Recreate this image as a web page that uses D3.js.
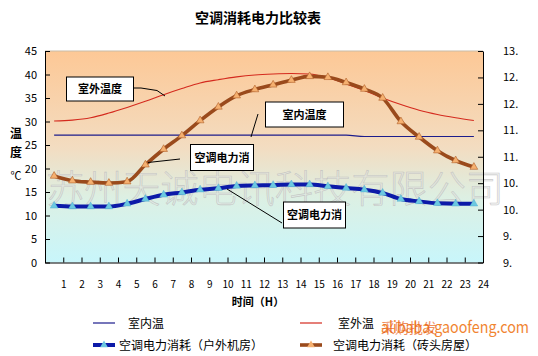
<!DOCTYPE html>
<html><head><meta charset="utf-8">
<script src="https://cdn.jsdelivr.net/npm/d3@7/dist/d3.min.js"></script>
<style>
html,body{margin:0;padding:0;background:#fff;}
svg{display:block;}
text{font-family:"Noto Sans CJK SC","Liberation Sans",sans-serif;}
</style></head>
<body>
<script>
const hours = d3.range(1,25);
const indoorTemp  = [27.1,27.1,27.1,27.1,27.1,27.1,27.1,27.1,27.1,27.1,27.1,27.1,27.1,27.1,27.1,27.1,27.1,26.8,26.8,26.8,26.8,26.8,26.8,26.8];
const outdoorTemp = [30.1,30.3,30.8,31.8,33.0,34.3,35.7,37.0,38.2,38.9,39.5,39.9,40.1,40.2,40.1,39.3,38.0,36.6,35.0,33.6,32.4,31.5,30.8,30.2];
const powerOutdoorRoom = [12.05,11.9,11.9,11.9,12.5,13.5,14.4,14.9,15.5,15.8,16.3,16.4,16.45,16.6,16.6,16.2,15.85,15.5,14.8,13.5,13.0,12.6,12.5,12.5];
const powerBrickHouse  = [18.4,17.4,17.1,16.9,17.2,20.8,24.1,27.0,30.2,33.1,35.5,36.8,37.8,38.8,39.6,39.4,38.3,36.9,35.0,30.0,26.7,23.8,21.7,20.3];
const leftTicks = d3.range(0,46,5);
const rightTicks = [9,9.5,10,10.5,11,11.5,12,12.5,13];
const seriesNames = ["室内温","室外温","空调电力消耗（户外机房）","空调电力消耗（砖头房屋）"];

const W=538,H=356;
const L=45,R=483,T=51,B=262.5;
const svg=d3.select("body").append("svg").attr("width",W).attr("height",H);
const defs=svg.append("defs");
const g=defs.append("linearGradient").attr("id","bg").attr("x1",0).attr("y1",0).attr("x2",0).attr("y2",1);
g.append("stop").attr("offset","0%").attr("stop-color","#fdc896");
g.append("stop").attr("offset","45%").attr("stop-color","#f3dcc0");
g.append("stop").attr("offset","70%").attr("stop-color","#dcf0e4");
g.append("stop").attr("offset","100%").attr("stop-color","#c8f6fb");

const x=d3.scaleLinear().domain([0,24]).range([L,R]);
const yL=d3.scaleLinear().domain([0,45]).range([B,T]);
const yR=d3.scaleLinear().domain([9,13]).range([B,T]);

svg.append("rect").attr("x",L).attr("y",T).attr("width",R-L).attr("height",B-T).attr("fill","url(#bg)");
svg.append("line").attr("x1",L).attr("x2",R).attr("y1",T).attr("y2",T).attr("stroke","#c9bba6");

// watermark
svg.append("text").attr("x",46).attr("y",202).attr("textLength",458).attr("lengthAdjust","spacingAndGlyphs")
  .attr("font-size",38).attr("font-weight",300).attr("fill","#e2e2e2").attr("fill-opacity",0.45).attr("stroke","#bdbdbd").attr("stroke-width",0.6).attr("stroke-opacity",0.8)
  .text("苏州天诚电讯科技有限公司");

// axes
const ax=svg.append("g").attr("transform",`translate(0,${B})`)
  .call(d3.axisBottom(x).tickValues(d3.range(0,25)).tickSizeInner(-5).tickSizeOuter(0).tickPadding(18).tickFormat(d=>d===0?"":d));
const ayl=svg.append("g").attr("transform",`translate(${L},0)`)
  .call(d3.axisLeft(yL).tickValues(leftTicks).tickSizeInner(-5).tickSizeOuter(0).tickPadding(8));
const ayr=svg.append("g").attr("transform",`translate(${R},0)`)
  .call(d3.axisRight(yR).tickValues(rightTicks).tickSizeInner(-5).tickSizeOuter(0).tickPadding(20).tickFormat(d=>Math.floor(d)+"."));
[ax,ayl,ayr].forEach(a=>{a.selectAll("path,line").attr("stroke","#000");a.selectAll("text").attr("font-family","Liberation Sans, Arial, sans-serif").attr("font-size",10).attr("fill","#000");});
ayl.selectAll("text").attr("font-size",11);
ayr.selectAll("text").attr("font-size",11);

const px=i=>x(hours[i]-0.5);
const lineGen=d3.line().x((d,i)=>px(i)).y(d=>yL(d)).curve(d3.curveMonotoneX);

svg.append("path").attr("d",lineGen(indoorTemp)).attr("fill","none").attr("stroke","#1c1c8c").attr("stroke-width",1.1);
svg.append("path").attr("d",lineGen(outdoorTemp)).attr("fill","none").attr("stroke","#d42a1e").attr("stroke-width",1.1);
svg.append("path").attr("d",lineGen(powerBrickHouse)).attr("fill","none").attr("stroke","#9a4a1c").attr("stroke-width",3.6);
svg.append("path").attr("d",lineGen(powerOutdoorRoom)).attr("fill","none").attr("stroke","#0c1aa8").attr("stroke-width",4);

const tri=d3.symbol().type(d3.symbolTriangle).size(26);
svg.append("g").selectAll("path").data(powerBrickHouse).join("path")
  .attr("d",tri).attr("transform",(d,i)=>`translate(${px(i)},${yL(d)})`).attr("fill","#f5b070").attr("stroke","#b0602a").attr("stroke-width",0.6);
svg.append("g").selectAll("path").data(powerOutdoorRoom).join("path")
  .attr("d",tri).attr("transform",(d,i)=>`translate(${px(i)},${yL(d)})`).attr("fill","#6cc8e0").attr("stroke","#4aa8d0").attr("stroke-width",0.4);

// callouts
function callout(bx,by,bw,bh,label,pts){
  svg.append("path").attr("d",d3.line()(pts)).attr("fill","none").attr("stroke","#000").attr("stroke-width",1);
  svg.append("rect").attr("x",bx).attr("y",by).attr("width",bw).attr("height",bh).attr("fill","#fff").attr("stroke","#000").attr("stroke-width",1);
  svg.append("text").attr("x",bx+bw/2).attr("y",by+bh/2+4).attr("text-anchor","middle").attr("font-size",11).attr("font-weight","bold").text(label);
}
callout(66.5,77,67,24,"室外温度",[[134,88],[141,88],[157,90.5],[165,96]]);
callout(265.5,102,78,25,"室内温度",[[258,114],[251,137]]);
callout(190.5,144.5,63,26,"空调电力消",[[180,159],[148,162.5]]);
callout(283.5,202,62,26,"空调电力消",[[227,189],[282,223]]);

// titles
svg.append("text").attr("x",258).attr("y",23).attr("text-anchor","middle").attr("font-size",14).attr("font-weight","bold").text("空调消耗电力比较表");
svg.append("text").attr("x",258).attr("y",306).attr("text-anchor","middle").attr("font-size",11).attr("font-weight","bold").text("时间（H）");
svg.append("text").attr("x",16).attr("y",138).attr("text-anchor","middle").attr("font-size",12).attr("font-weight","bold").text("温");
svg.append("text").attr("x",16).attr("y",157).attr("text-anchor","middle").attr("font-size",12).attr("font-weight","bold").text("度");
svg.append("text").attr("x",16).attr("y",180).attr("text-anchor","middle").attr("font-size",11).text("℃");

// legend
const leg=[
  {x:93,y:323,color:"#1c1c8c",w:1.2,m:null,tx:128},
  {x:300,y:323,color:"#d42a1e",w:1.2,m:null,tx:338},
  {x:93,y:345,color:"#0c1aa8",w:4,m:"#6cc8e0",tx:119},
  {x:300,y:345,color:"#9a4a1c",w:3.6,m:"#f5b070",tx:333}
];
leg.forEach((d,i)=>{
  svg.append("line").attr("x1",d.x).attr("x2",d.x+22).attr("y1",d.y).attr("y2",d.y).attr("stroke",d.color).attr("stroke-width",d.w);
  if(d.m) svg.append("path").attr("d",tri).attr("transform",`translate(${d.x+11},${d.y})`).attr("fill",d.m);
  svg.append("text").attr("x",d.tx).attr("y",d.y+4.5).attr("font-size",12).attr("fill","#000").text(seriesNames[i]);
});

// site watermark
svg.append("text").attr("x",381).attr("y",333).attr("textLength",148).attr("lengthAdjust","spacingAndGlyphs")
  .attr("font-size",16).attr("fill","#f07818").attr("opacity",0.9).text("alibaba.gaoofeng.com");
svg.append("text").attr("x",381).attr("y",333).attr("font-size",14).attr("fill","#e8601a").attr("opacity",0.7).text("采购批发");
</script>
</body></html>
